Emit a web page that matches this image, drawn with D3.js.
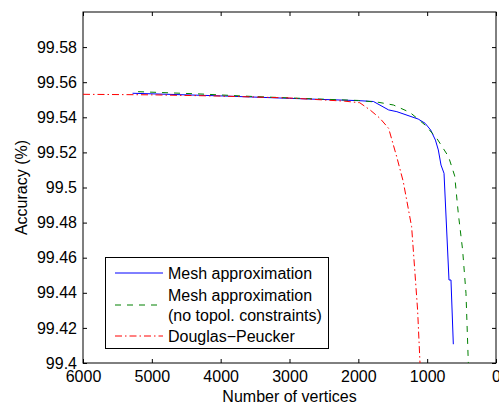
<!DOCTYPE html>
<html>
<head>
<meta charset="utf-8">
<script src="https://cdn.jsdelivr.net/npm/d3@7"></script>
<style>
  body { margin: 0; background: #fff; }
  text { font-family: "Liberation Sans", Arial, Helvetica, sans-serif; font-size: 16px; fill: #000; }
</style>
</head>
<body>
<div id="chart"></div>
<script>
// [vertices, accuracy]
const meshApprox = [
    [5280, 99.5537], [4000, 99.5522], [3000, 99.5508], [2000, 99.5495], [1780, 99.5490],
    [1560, 99.5442], [1440, 99.5432], [1130, 99.5390], [1030, 99.5366], [950, 99.5328],
    [880, 99.5270], [838, 99.5214], [799, 99.5128], [755, 99.5081], [683, 99.4473],
    [654, 99.4473], [620, 99.4107]
];
const meshNoTopo = [
    [5200, 99.5546], [4300, 99.5533], [3500, 99.5518], [2500, 99.5503], [2000, 99.5496],
    [1700, 99.5485], [1490, 99.5470], [1250, 99.5428], [1030, 99.5356], [860, 99.5280],
    [690, 99.5176], [600, 99.5066], [548, 99.4853], [485, 99.4644], [436, 99.4397],
    [402, 99.4000]
];
const douglasPeucker = [
    [6000, 99.5531], [5000, 99.5528], [4000, 99.5521], [3000, 99.5510], [2200, 99.5492],
    [1980, 99.5483], [1830, 99.5442], [1685, 99.5394], [1560, 99.5337], [1443, 99.5176],
    [1347, 99.5033], [1226, 99.4777], [1177, 99.4511], [1139, 99.4302], [1104, 99.4000]
];
const xTicks = [6000, 5000, 4000, 3000, 2000, 1000, 0];
const yTicks = [99.4, 99.42, 99.44, 99.46, 99.48, 99.5, 99.52, 99.54, 99.56, 99.58];
const seriesNames = ["Mesh approximation", "Mesh approximation\n(no topol. constraints)", "Douglas\u2212Peucker"];

const width = 499, height = 408;
const margin = {top: 12, right: 3, bottom: 45, left: 83};

const svg = d3.select("#chart").append("svg")
    .attr("width", width)
    .attr("height", height);

const x = d3.scaleLinear().domain([6000, 0]).range([margin.left, width - margin.right]);
const y = d3.scaleLinear().domain([99.4, 99.6]).range([height - margin.bottom, margin.top]);

const x0 = x.range()[0], x1 = x.range()[1], y0 = y.range()[0], y1 = y.range()[1];

// axes, ticks pointing inwards like matlab
svg.append("g")
    .attr("transform", `translate(0, ${y0})`)
    .call(d3.axisBottom(x).tickValues(xTicks).tickSize(-4).tickPadding(8).tickFormat(d3.format("d")))
    .call(g => g.select(".domain").remove());
svg.append("g")
    .attr("transform", `translate(0, ${y1})`)
    .call(d3.axisTop(x).tickValues(xTicks).tickSize(-4).tickFormat(""))
    .call(g => g.select(".domain").remove());
svg.append("g")
    .attr("transform", `translate(${x0}, 0)`)
    .call(d3.axisLeft(y).tickValues(yTicks).tickSize(-4).tickPadding(6).tickFormat(d => String(+d.toFixed(2))))
    .call(g => g.select(".domain").remove());
svg.append("g")
    .attr("transform", `translate(${x1}, 0)`)
    .call(d3.axisRight(y).tickValues(yTicks).tickSize(-4).tickFormat(""))
    .call(g => g.select(".domain").remove());

svg.selectAll(".tick text").attr("font-size", null).attr("font-family", null);
svg.selectAll(".tick line").attr("stroke", "#000");

svg.append("rect")
    .attr("x", x0).attr("y", y1)
    .attr("width", x1 - x0).attr("height", y0 - y1)
    .attr("fill", "none").attr("stroke", "#000").attr("stroke-width", 1);

const line = d3.line().x(d => x(d[0])).y(d => y(d[1]));

const styles = [
    {data: meshApprox, color: "#0000ff", dash: null},
    {data: meshNoTopo, color: "#008000", dash: "6,6"},
    {data: douglasPeucker, color: "#ff0000", dash: "7,3,1.5,3"}
];

for (const s of styles) {
    svg.append("path")
        .datum(s.data)
        .attr("d", line)
        .attr("fill", "none")
        .attr("stroke", s.color)
        .attr("stroke-width", 1)
        .attr("stroke-dasharray", s.dash);
}

// axis labels
svg.append("text")
    .attr("x", (x0 + x1) / 2).attr("y", 402)
    .attr("text-anchor", "middle")
    .text("Number of vertices");
svg.append("text")
    .attr("transform", `translate(27, ${(y0 + y1) / 2}) rotate(-90)`)
    .attr("text-anchor", "middle")
    .text("Accuracy (%)");

// legend
const legend = svg.append("g");
legend.append("rect")
    .attr("x", 105.5).attr("y", 257.5)
    .attr("width", 223).attr("height", 91)
    .attr("fill", "#fff").attr("stroke", "#000");

const rowY = [273, 305, 336];
styles.forEach((s, i) => {
    legend.append("line")
        .attr("x1", 115).attr("x2", 163)
        .attr("y1", rowY[i]).attr("y2", rowY[i])
        .attr("stroke", s.color)
        .attr("stroke-dasharray", s.dash);
    const lines = seriesNames[i].split("\n");
    const t = legend.append("text")
        .attr("x", 168)
        .attr("y", rowY[i] - (lines.length - 1) * 10 + 6);
    lines.forEach((l, j) => {
        t.append("tspan").attr("x", 168).attr("dy", j === 0 ? 0 : 20).text(l);
    });
});
</script>
</body>
</html>
